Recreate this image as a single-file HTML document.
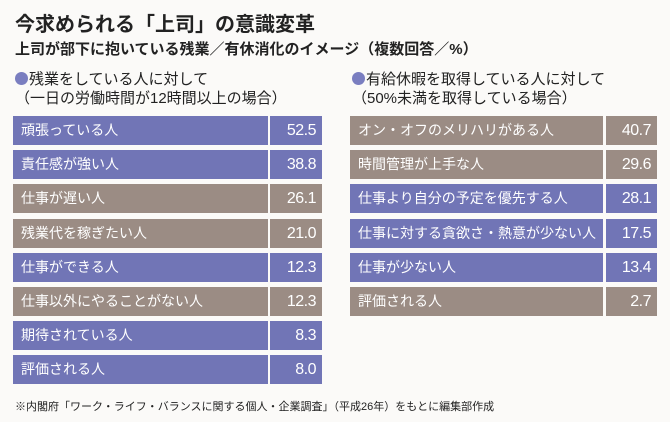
<!DOCTYPE html>
<html><head><meta charset="utf-8"><style>
body{margin:0;width:670px;height:422px;background:#fbfaf8;font-family:"Liberation Sans","Noto Sans CJK JP",sans-serif;position:relative;overflow:hidden;color:#222}
.t{position:absolute;white-space:nowrap}
.r{position:absolute;height:29px;color:#fff;font-size:14px;line-height:29px}
.r .l{position:absolute;left:0;top:0;bottom:0;padding-left:8px;box-sizing:border-box}
.r .v{position:absolute;top:0;bottom:0;text-align:right;padding-right:6px;box-sizing:border-box;font-size:16px;letter-spacing:-0.5px}
.b .l,.b .v{background:#7175b6}
.g .l,.g .v{background:#9b8c84}
.dot{display:inline-block;width:13px;height:13px;border-radius:50%;background:#7a7ec0;vertical-align:-1px;margin-right:1px}
</style></head><body>
<div class="t" style="left:15px;top:8px;font-size:20px;font-weight:bold">今求められる「上司」の意識変革</div>
<div class="t" style="left:15px;top:38px;font-size:15px;font-weight:bold">上司が部下に抱いている残業／有休消化のイメージ（複数回答／%）</div>
<div class="t" style="left:15px;top:70px;font-size:15px;line-height:19px"><span class="dot"></span>残業をしている人に対して<br>（一日の労働時間が12時間以上の場合）</div>
<div class="t" style="left:352px;top:70px;font-size:15px;line-height:19px"><span class="dot"></span>有給休暇を取得している人に対して<br>（50%未満を取得している場合）</div>
<div id="L"></div>
<div class="t" style="left:15px;top:398px;font-size:11px">※内閣府「ワーク・ライフ・バランスに関する個人・企業調査」（平成26年）をもとに編集部作成</div>
<script>
function rows(x,w1,vx,vw,data){var h='';data.forEach(function(d,i){var y=116+i*34.2;
h+='<div class="r '+d[2]+'" style="left:'+x+'px;top:'+y+'px;width:'+(vx+vw-x)+'px"><div class="l" style="width:'+w1+'px">'+d[0]+'</div><div class="v" style="left:'+(vx-x)+'px;width:'+vw+'px">'+d[1]+'</div></div>';});return h;}
document.getElementById('L').innerHTML=rows(13,255,270,52,[["頑張っている人","52.5","b"],["責任感が強い人","38.8","b"],["仕事が遅い人","26.1","g"],["残業代を稼ぎたい人","21.0","g"],["仕事ができる人","12.3","b"],["仕事以外にやることがない人","12.3","g"],["期待されている人","8.3","b"],["評価される人","8.0","b"]])+
rows(350,253,606,51,[["オン・オフのメリハリがある人","40.7","g"],["時間管理が上手な人","29.6","g"],["仕事より自分の予定を優先する人","28.1","b"],["仕事に対する貪欲さ・熱意が少ない人","17.5","b"],["仕事が少ない人","13.4","b"],["評価される人","2.7","g"]]);
</script>
</body></html>
